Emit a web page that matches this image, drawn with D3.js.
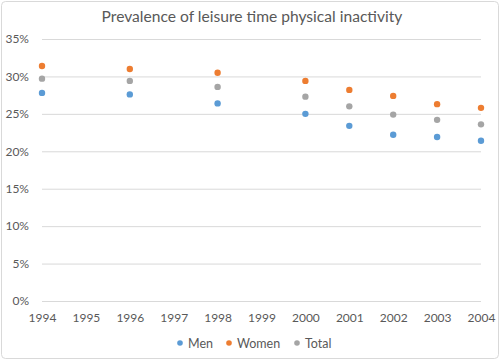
<!DOCTYPE html>
<html><head><meta charset="utf-8">
<script src="https://cdn.jsdelivr.net/npm/d3@7"></script>
<style>body{margin:0;background:#fff;}svg{display:block;}</style>
</head><body>
<script>
const years = ["1994","1995","1996","1997","1998","1999","2000","2001","2002","2003","2004"];
const dataYears = ["1994","1996","1998","2000","2001","2002","2003","2004"];
const men   = [27.8, 27.6, 26.4, 25.0, 23.4, 22.2, 21.9, 21.4];
const women = [31.4, 31.0, 30.5, 29.4, 28.2, 27.4, 26.3, 25.8];
const total = [29.7, 29.4, 28.6, 27.3, 26.0, 24.9, 24.2, 23.6];
const yTicks = [0, 5, 10, 15, 20, 25, 30, 35];
const seriesNames = ["Men", "Women", "Total"];
const colors = ["#5B9BD5", "#ED7D31", "#A5A5A5"];
const title = "Prevalence of leisure time physical inactivity";

const W = 500, H = 361;
const font = "Lato, 'Open Sans', sans-serif";
const svg = d3.select("body").append("svg").attr("width", W).attr("height", H);
svg.append("rect").attr("x", 1.5).attr("y", 1.5).attr("width", W - 3).attr("height", H - 4)
  .attr("rx", 4).attr("fill", "#fff").attr("stroke", "#d9d9d9");

const x = d3.scalePoint().domain(years).range([42, 481]);
const y = d3.scaleLinear().domain([0, 35]).range([301, 39]);

svg.append("text").attr("x", 252).attr("y", 21.5).attr("text-anchor", "middle")
  .attr("font-family", font).attr("font-size", 15.6).attr("fill", "#595959").text(title);

const yAxis = svg.append("g").attr("transform", "translate(42,0)")
  .call(d3.axisLeft(y).tickValues(yTicks).tickFormat(d => d + "%").tickSize(-(481 - 42)).tickPadding(13));
yAxis.select(".domain").remove();
yAxis.selectAll("line").attr("stroke", "#d9d9d9");
yAxis.selectAll("text").attr("font-family", font).attr("font-size", 12).attr("fill", "#595959");

const xAxis = svg.append("g").attr("transform", "translate(0,301)")
  .call(d3.axisBottom(x).tickSize(0).tickPadding(12));
xAxis.select(".domain").remove();
xAxis.selectAll("text").attr("font-family", font).attr("font-size", 12).attr("fill", "#595959");

const seriesVals = [men, women, total];
seriesVals.forEach((vals, i) => {
  svg.append("g").selectAll("circle").data(vals).join("circle")
    .attr("cx", (d, j) => x(dataYears[j])).attr("cy", d => y(d)).attr("r", 3.2)
    .attr("fill", colors[i]);
});

const legendX = [180, 229, 297];
const lg = svg.append("g");
seriesNames.forEach((n, i) => {
  lg.append("circle").attr("cx", legendX[i]).attr("cy", 343).attr("r", 2.8).attr("fill", colors[i]);
  lg.append("text").attr("x", legendX[i] + 8).attr("y", 347.5).attr("font-family", font)
    .attr("font-size", 12.5).attr("fill", "#595959").text(n);
});
</script>
</body></html>
